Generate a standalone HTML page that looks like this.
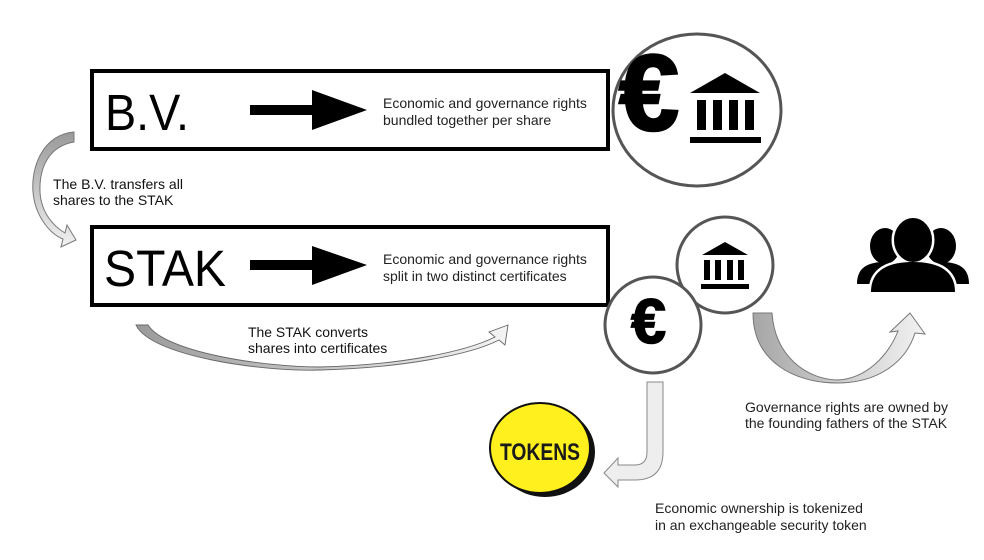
<!DOCTYPE html>
<html>
<head>
<meta charset="utf-8">
<style>
  html,body{margin:0;padding:0;background:#fff;}
  svg{display:block;}
  .ar{font-family:"Liberation Sans",Arial,sans-serif;}
</style>
</head>
<body>
<svg width="984" height="560" viewBox="0 0 984 560" xmlns="http://www.w3.org/2000/svg">
  <defs>
    <linearGradient id="gL" x1="0" y1="0" x2="0" y2="1">
      <stop offset="0" stop-color="#999"/>
      <stop offset="1" stop-color="#f2f2f2"/>
    </linearGradient>
    <linearGradient id="gS" x1="0" y1="0" x2="1" y2="0">
      <stop offset="0" stop-color="#9a9a9a"/>
      <stop offset="1" stop-color="#f4f4f4"/>
    </linearGradient>
    <linearGradient id="gG" x1="0" y1="0" x2="1" y2="0">
      <stop offset="0" stop-color="#a6a6a6"/>
      <stop offset="1" stop-color="#f2f2f2"/>
    </linearGradient>
  </defs>

  <!-- Boxes -->
  <rect x="92" y="71" width="516" height="78" fill="#fff" stroke="#000" stroke-width="4"/>
  <rect x="92" y="227" width="516" height="78" fill="#fff" stroke="#000" stroke-width="4"/>

  <!-- Box labels -->
  <text class="ar" x="105" y="130" font-size="51" fill="#000" textLength="84" lengthAdjust="spacingAndGlyphs">B.V.</text>
  <text class="ar" x="104" y="286" font-size="51" fill="#000" textLength="122" lengthAdjust="spacingAndGlyphs">STAK</text>

  <!-- Arrows inside boxes -->
  <rect x="250" y="105" width="64" height="10" fill="#000"/>
  <polygon points="312,90 367,110 312,130" fill="#000"/>
  <rect x="250" y="260" width="64" height="10" fill="#000"/>
  <polygon points="312,246 367,265 312,285" fill="#000"/>

  <!-- Box descriptions -->
  <text class="ar" font-size="14" fill="#222">
    <tspan x="383" y="108">Economic and governance rights</tspan>
    <tspan x="383" y="125">bundled together per share</tspan>
  </text>
  <text class="ar" font-size="14" fill="#222">
    <tspan x="383" y="264">Economic and governance rights</tspan>
    <tspan x="383" y="281">split in two distinct certificates</tspan>
  </text>

  <!-- Big circle with euro + bank -->
  <ellipse cx="697" cy="110" rx="84" ry="76" fill="#fff" stroke="#555" stroke-width="3"/>
  <text x="619" y="130" font-family="'Liberation Sans',Arial,sans-serif" font-weight="bold" font-size="108" fill="#000" stroke="#000" stroke-width="2.5">€</text>
  <polygon points="690,93 725,73 760,93" fill="#000"/>
  <rect x="697" y="100" width="9" height="30" fill="#000"/>
  <rect x="713" y="100" width="9" height="30" fill="#000"/>
  <rect x="729" y="100" width="9" height="30" fill="#000"/>
  <rect x="745" y="100" width="9" height="30" fill="#000"/>
  <rect x="690" y="137" width="71" height="6" fill="#000"/>

  <!-- Small bank circle -->
  <circle cx="725" cy="265" r="48" fill="#fff" stroke="#555" stroke-width="3"/>
  <polygon points="702,255 725,242 748,255" fill="#000"/>
  <rect x="704" y="260" width="6" height="20" fill="#000"/>
  <rect x="715" y="260" width="6" height="20" fill="#000"/>
  <rect x="727" y="260" width="6" height="20" fill="#000"/>
  <rect x="738" y="260" width="6" height="20" fill="#000"/>
  <rect x="701" y="284" width="48" height="5" fill="#000"/>

  <!-- Small euro circle -->
  <circle cx="653" cy="325" r="48" fill="#fff" stroke="#555" stroke-width="3"/>
  <text x="631" y="343" font-family="'Liberation Sans',Arial,sans-serif" font-weight="bold" font-size="63" fill="#000" stroke="#000" stroke-width="1.5">€</text>

  <!-- People icon -->
  <g fill="#000">
    <ellipse cx="885" cy="246" rx="15" ry="18"/>
    <path d="M857,284 C857,268 867,262 885,262 C903,262 912,268 912,284 Z"/>
    <ellipse cx="941" cy="246" rx="15" ry="18"/>
    <path d="M914,284 C914,268 923,262 941,262 C959,262 969,268 969,284 Z"/>
  </g>
  <g fill="#fff" stroke="#fff" stroke-width="5">
    <path d="M871,292 C871,271 887,262 913,262 C939,262 955,271 955,292 Z"/>
    <ellipse cx="913" cy="240" rx="19" ry="22"/>
  </g>
  <g fill="#000">
    <path d="M871,292 C871,271 887,262 913,262 C939,262 955,271 955,292 Z"/>
    <ellipse cx="913" cy="240" rx="19" ry="22"/>
  </g>

  <!-- B.V. transfers arrow (left) -->
  <path d="M74,132 C42,135 31,168 33,192 C35,216 50,234 63,239 L61,247 L76,240 L67,225 L65,233 C53,226 41,212 40,192 C39,166 50,146 74,142 Z"
        fill="url(#gL)" stroke="#777" stroke-width="1"/>
  <text class="ar" font-size="14" fill="#111">
    <tspan x="53" y="189" textLength="130" lengthAdjust="spacingAndGlyphs">The B.V. transfers all</tspan>
    <tspan x="53" y="205">shares to the STAK</tspan>
  </text>

  <!-- STAK converts arrow -->
  <path d="M136,325 C150,356 262,372 320,370 C400,368 470,355 499,340 L505,345 L508,325 L489,332 L495,337 C465,352 400,365 320,367 C262,367 165,352 148,325 Z"
        fill="url(#gS)" stroke="#666" stroke-width="0.9"/>
  <text class="ar" font-size="14" fill="#111">
    <tspan x="248" y="337" textLength="120" lengthAdjust="spacingAndGlyphs">The STAK converts</tspan>
    <tspan x="248" y="353">shares into certificates</tspan>
  </text>

  <!-- Governance arrow -->
  <path d="M753,313 C753,362 795,383 837,383 C878,383 906,362 915,333 L925,334 L910,313 L890,332 L898,331 C888,356 866,379 837,380 C806,379 775,356 772,313 Z"
        fill="url(#gG)" stroke="#777" stroke-width="1"/>
  <text class="ar" font-size="14" fill="#222">
    <tspan x="745" y="412" textLength="203" lengthAdjust="spacingAndGlyphs">Governance rights are owned by</tspan>
    <tspan x="745" y="428">the founding fathers of the STAK</tspan>
  </text>

  <!-- J arrow to tokens -->
  <path d="M647,382 L663,382 L663,452 Q663,480 635,480 L618,480 L618,487 L604,473 L618,458 L618,465 L635,465 Q647,465 647,452 Z"
        fill="#eee" stroke="#888" stroke-width="1"/>

  <!-- Tokens coin -->
  <ellipse cx="545" cy="452" rx="50" ry="45" fill="#111"/>
  <ellipse cx="540" cy="448" rx="50" ry="45" fill="#fff01e" stroke="#111" stroke-width="2"/>
  <text x="500" y="460" font-family="'Liberation Sans',Arial,sans-serif" font-weight="bold" font-size="24" fill="#1a1a1a" textLength="80" lengthAdjust="spacingAndGlyphs">TOKENS</text>

  <text class="ar" font-size="14" fill="#222">
    <tspan x="655" y="513" textLength="208" lengthAdjust="spacingAndGlyphs">Economic ownership is tokenized</tspan>
    <tspan x="655" y="530">in an exchangeable security token</tspan>
  </text>
</svg>
</body>
</html>
